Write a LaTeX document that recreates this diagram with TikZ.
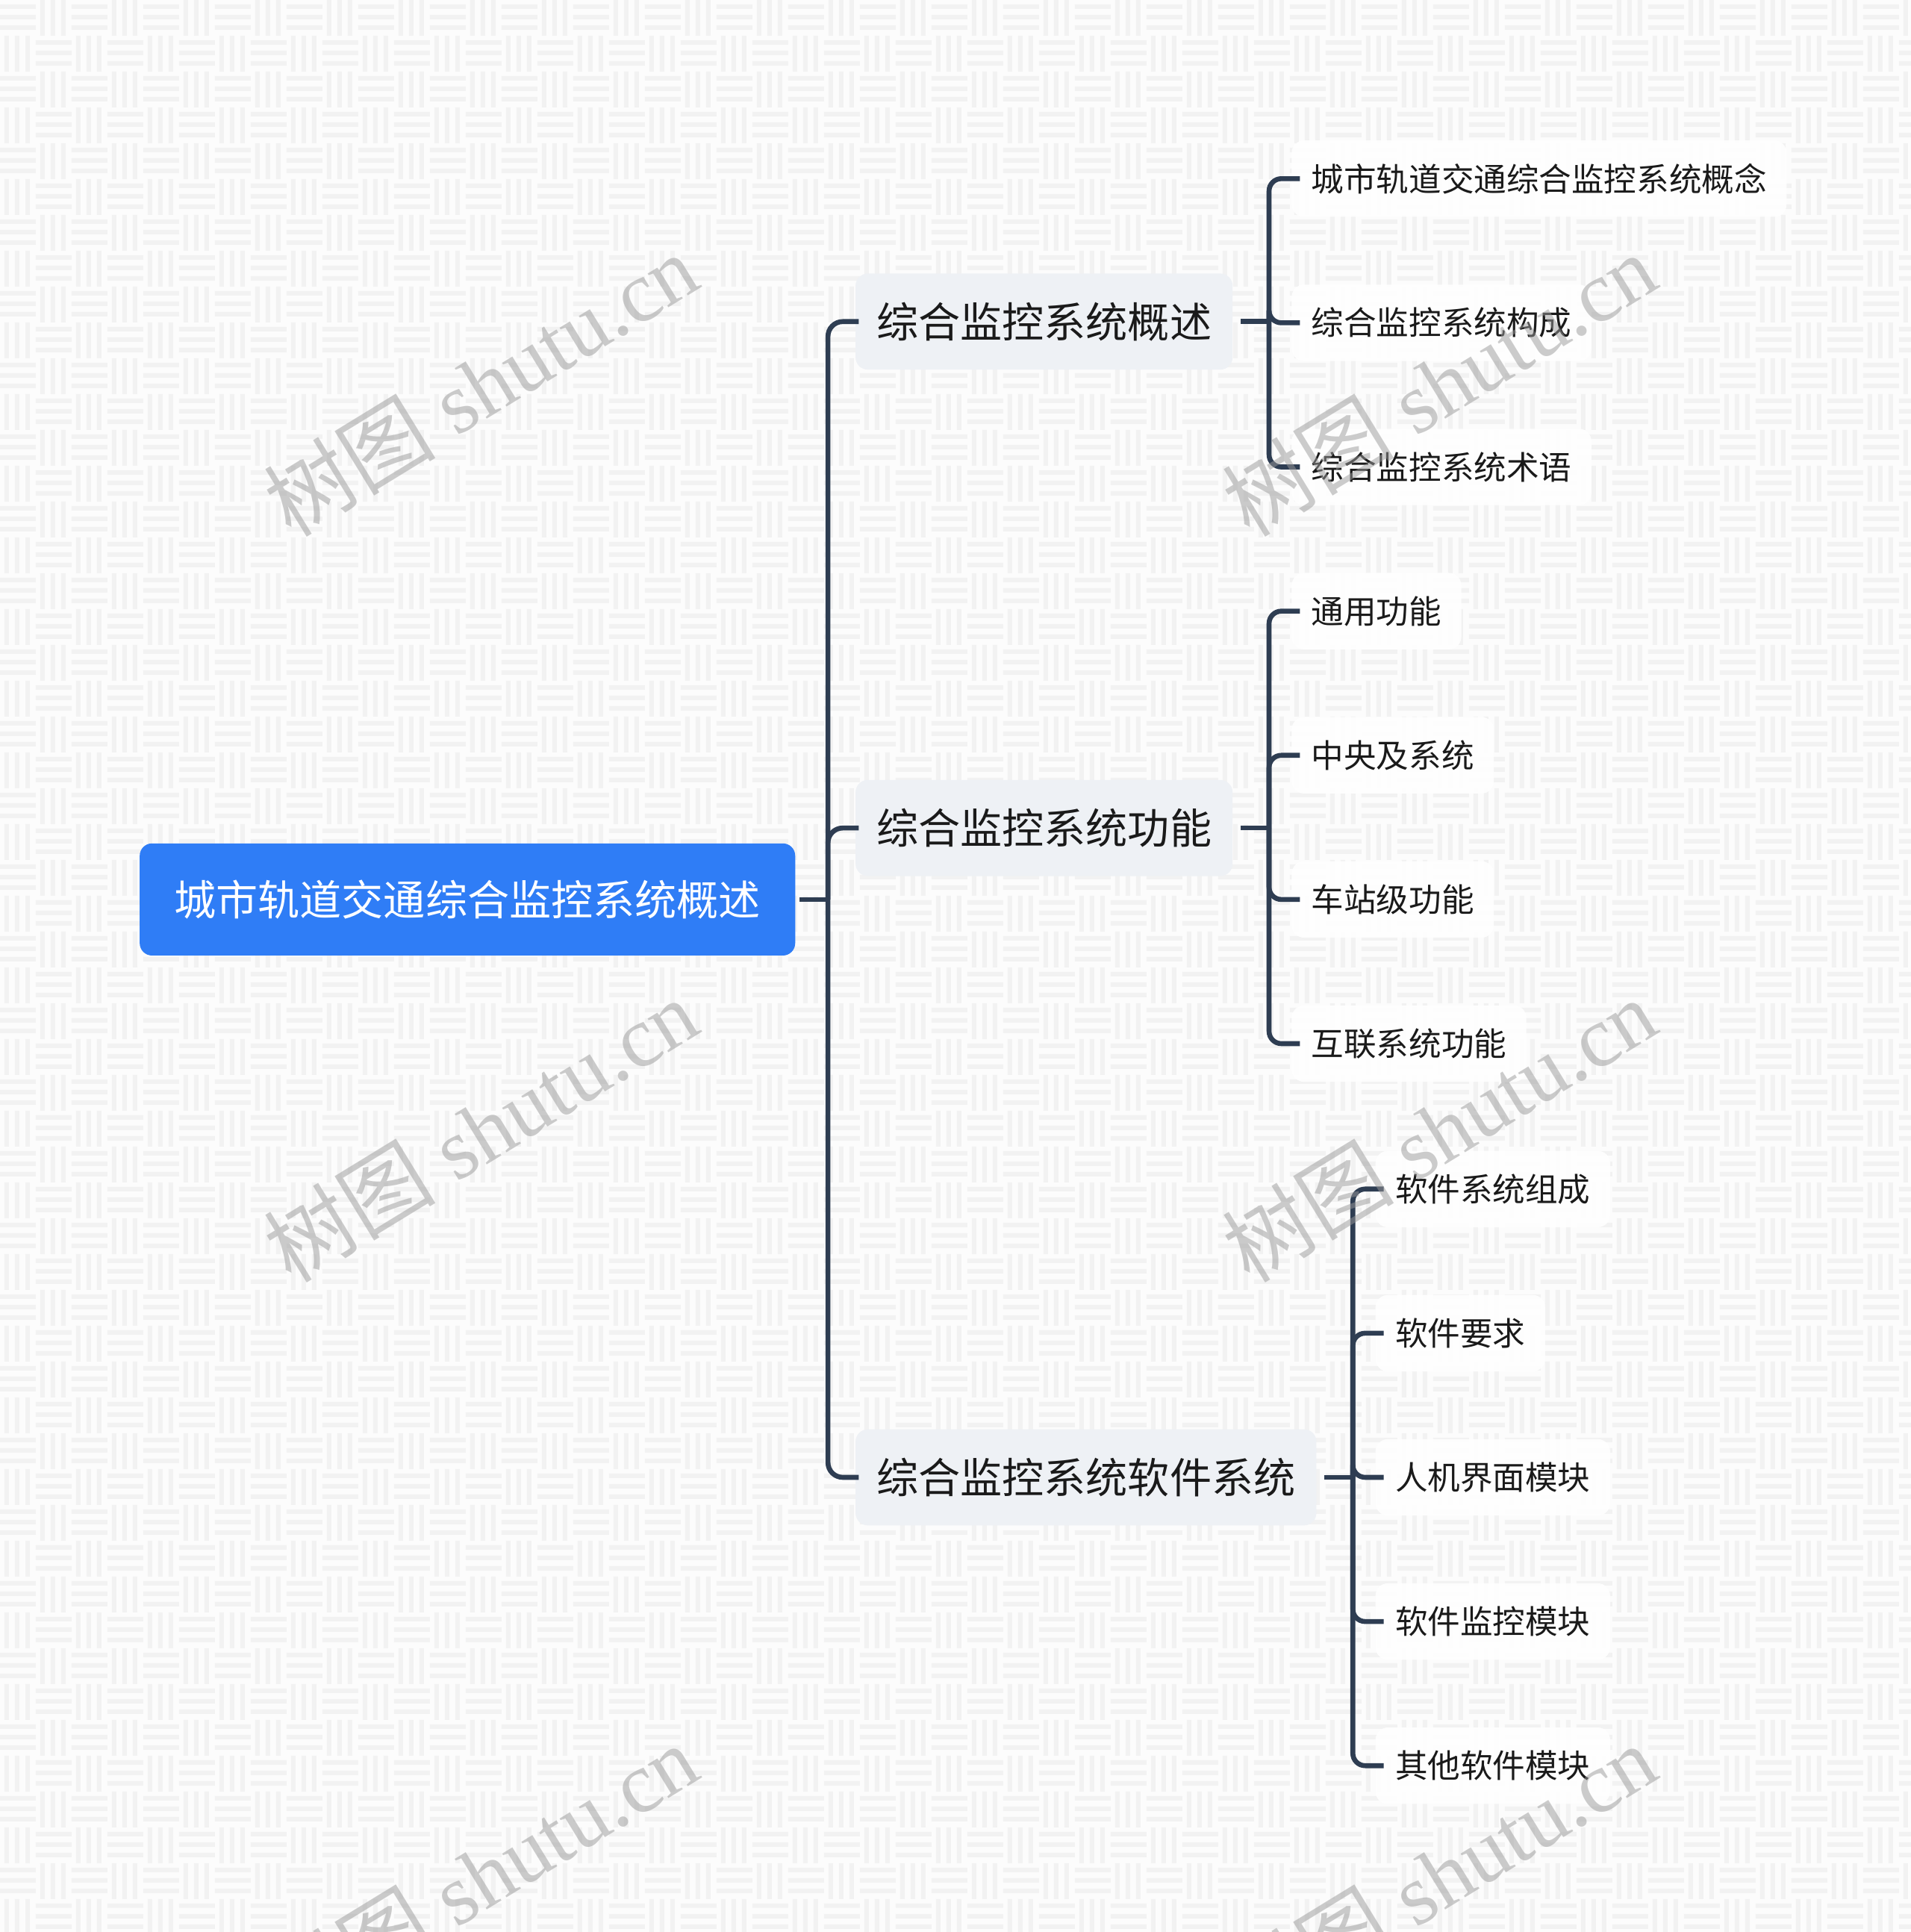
\documentclass[tikz,border=0pt]{standalone}
\usepackage{fontspec}
\setmainfont{Liberation Serif}
\newfontfamily\cjk{Noto Sans CJK SC}
\definecolor{bgc}{HTML}{FCFCFC}
\definecolor{stripec}{HTML}{F2F2F2}
\definecolor{rootc}{HTML}{2F7DF6}
\definecolor{lonec}{HTML}{EEF1F5}
\definecolor{linec}{HTML}{2E3D52}
\definecolor{txtc}{HTML}{1A1A1A}
\definecolor{wmc}{HTML}{9A9A9A}
\tikzset{
  rootbox/.style={fill=rootc, rounded corners=5pt, text=white, inner xsep=14pt,
    minimum height=45.5pt, font=\fontsize{17pt}{20pt}\selectfont\cjk, anchor=west},
  lonebox/.style={fill=lonec, rounded corners=5pt, text=txtc, inner xsep=8.5pt,
    minimum height=39pt, font=\fontsize{17pt}{20pt}\selectfont\cjk, anchor=west},
  leafbox/.style={fill=white, fill opacity=0.85, text opacity=1, rounded corners=5pt, text=txtc,
    inner xsep=8pt, minimum height=31pt, font=\fontsize{13.2pt}{16pt}\selectfont\cjk, anchor=west},
  conn/.style={draw=linec, line width=2pt},
  wm/.style={text=wmc, opacity=0.5, rotate=31.5, font=\fontsize{35pt}{40pt}\selectfont}
}
\begin{document}
\begin{tikzpicture}[x=0.5pt,y=-0.5pt]
\useasboundingbox (0,0) rectangle (1551,1568);
\fill[bgc] (0,0) rectangle (1551,1568);
\begin{scope}
\clip (0,0) rectangle (1551,1568);
\foreach \i in {0,...,53}{
  \foreach \j in {0,...,53}{
    \pgfmathsetmacro\xo{\i*29.08}
    \pgfmathsetmacro\yo{\j*29.08}
    \pgfmathtruncatemacro\tpar{mod(\i+\j,2)}
    \ifnum\tpar=0
      \fill[stripec] (\xo,\yo+3.6) rectangle ++(29.08,3.6)
                     (\xo,\yo+12.1) rectangle ++(29.08,3.6)
                     (\xo,\yo+20.6) rectangle ++(29.08,3.6);
    \else
      \fill[stripec] (\xo+3.6,\yo) rectangle ++(3.6,29.08)
                     (\xo+12.1,\yo) rectangle ++(3.6,29.08)
                     (\xo+20.6,\yo) rectangle ++(3.6,29.08);
    \fi
  }
}
\end{scope}

% nodes
\node[rootbox] (root) at (113,730) {城市轨道交通综合监控系统概述};
\node[lonebox] (a) at (694,261) {综合监控系统概述};
\node[lonebox] (b) at (694,672) {综合监控系统功能};
\node[lonebox] (c) at (694,1199) {综合监控系统软件系统};

\node[leafbox] (a1) at (1048,145) {城市轨道交通综合监控系统概念};
\node[leafbox] (a2) at (1048,262) {综合监控系统构成};
\node[leafbox] (a3) at (1048,379) {综合监控系统术语};

\node[leafbox] (b1) at (1048,496) {通用功能};
\node[leafbox] (b2) at (1048,613) {中央及系统};
\node[leafbox] (b3) at (1048,730) {车站级功能};
\node[leafbox] (b4) at (1048,847) {互联系统功能};

\node[leafbox] (c1) at (1116,965) {软件系统组成};
\node[leafbox] (c2) at (1116,1082) {软件要求};
\node[leafbox] (c3) at (1116,1199) {人机界面模块};
\node[leafbox] (c4) at (1116,1316) {软件监控模块};
\node[leafbox] (c5) at (1116,1433) {其他软件模块};

% junctions (same height as their parent)
\coordinate (j0) at (672,730);
\coordinate (j1) at (1030,261);
\coordinate (j2) at (1030,672);
\coordinate (j3) at (1098,1199);

\draw[conn] ([xshift=1.5pt]root.east) -- (j0);
\foreach \n in {a,b,c}{
  \draw[conn, rounded corners=6pt] (j0) |- ([xshift=1.5pt]\n.west);
}
\draw[conn] ([xshift=3pt]a.east) -- (j1);
\foreach \n in {a1,a2,a3}{
  \draw[conn, rounded corners=5pt] (j1) |- ([xshift=3.5pt]\n.west);
}
\draw[conn] ([xshift=3pt]b.east) -- (j2);
\foreach \n in {b1,b2,b3,b4}{
  \draw[conn, rounded corners=5pt] (j2) |- ([xshift=3.5pt]\n.west);
}
\draw[conn] ([xshift=3pt]c.east) -- (j3);
\foreach \n in {c1,c2,c3,c4,c5}{
  \draw[conn, rounded corners=5pt] (j3) |- ([xshift=3.5pt]\n.west);
}

% watermarks
\foreach \wx/\wy [count=\k] in {390/312, 1168/312, 390/917, 1168/917, 390/1522, 1168/1522}{
  \node[wm] (wm\k) at (\wx,\wy) {{\cjk 树图} shutu.cn};
}
\end{tikzpicture}
\end{document}
